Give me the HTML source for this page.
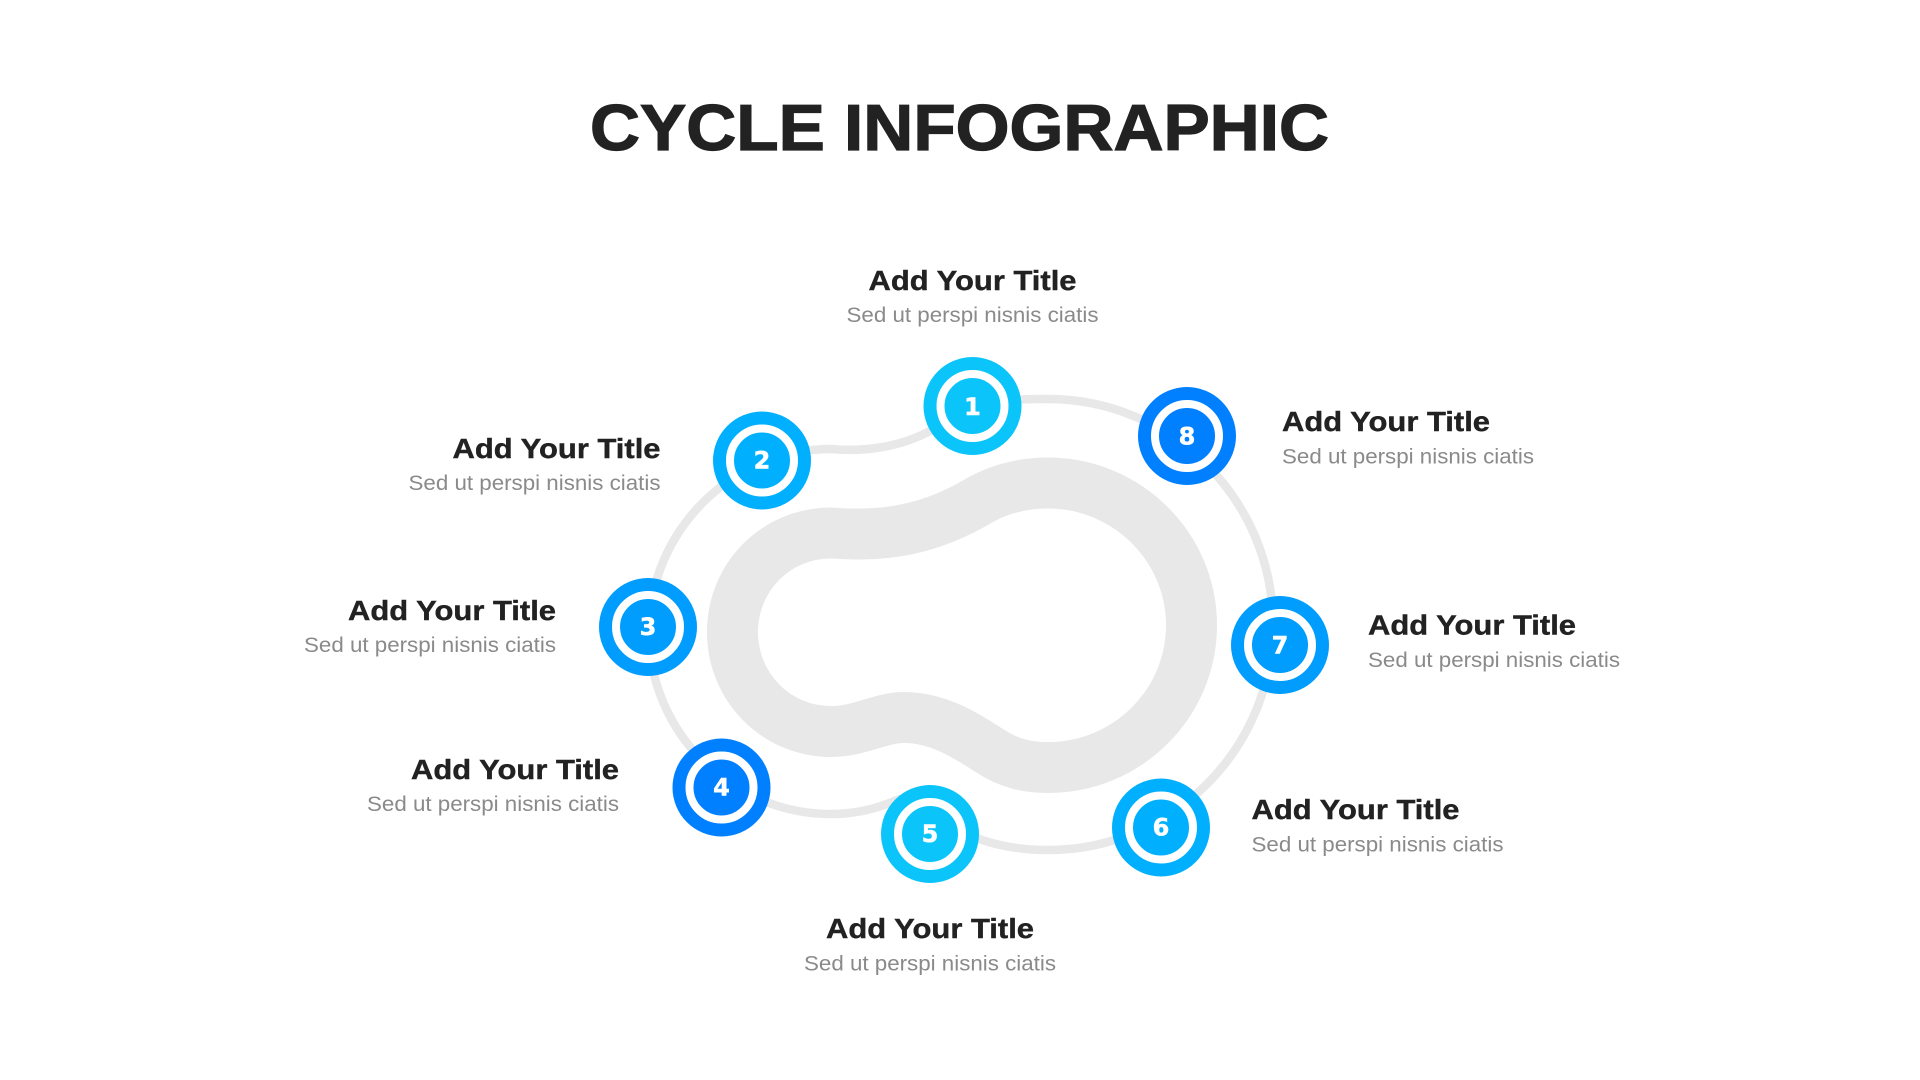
<!DOCTYPE html>
<html lang="en">
<head>
<meta charset="utf-8">
<title>Cycle Infographic</title>
<style>
html,body{margin:0;padding:0;background:#fff;width:1920px;height:1080px;overflow:hidden}
svg{display:block}
text{font-family:"Liberation Sans",sans-serif}
.h{font-size:65px;font-weight:700;fill:#222;stroke:#222;stroke-width:1.2px}
.t{font-size:28px;font-weight:700;fill:#222;stroke:#222;stroke-width:.4px}
.s{font-size:21px;fill:#8a8a8a}
.n{font-family:"DejaVu Sans",sans-serif;font-size:24px;font-weight:700;fill:#fff;text-anchor:middle;stroke:#fff;stroke-width:.5px}
</style>
</head>
<body>
<svg width="1920" height="1080" viewBox="0 0 1920 1080" xmlns="http://www.w3.org/2000/svg">
<rect width="1920" height="1080" fill="#fff"/>
<text class="h" x="590" y="150" textLength="739" lengthAdjust="spacingAndGlyphs">CYCLE INFOGRAPHIC</text>

<path d="M1048 399 C1172 399 1273 500 1273 625 C1273 749 1172 850 1048 850 C1020 850 1000 846 982 840 C960 832 950 804 915 799 C900 797 895 801 887 804 C868 811 850 814 831 814 C731 814 649 732 649 632 C649 532 731 449 831 449 C865 452 900 447 930 431 C945 422 955 411 972 406 C995 400 1020 399 1048 399 Z" fill="none" stroke="#e8e8e8" stroke-width="8.500"/>

<path d="M1048 483 C1127 483 1191.500 547 1191.500 625 C1191.500 704 1127 767.500 1048 767.500 C1028 767.500 1010 764 990 751 C970 738 940 717.500 904 717.500 C880 717.500 860 731.500 831 731.500 C776 731.500 732.500 687 732.500 632 C732.500 577 776 533 831 533 C885 537 930 530 980 500 C1000 489 1022 483 1048 483 Z" fill="none" stroke="#e8e8e8" stroke-width="51"/>

<circle cx="972.500" cy="406" r="49" fill="#0bc5fa"/><circle cx="972.500" cy="406" r="32" fill="none" stroke="#fff" stroke-width="8"/><text class="n" x="972.500" y="415">1</text>
<circle cx="762" cy="460.500" r="49" fill="#00b0ff"/><circle cx="762" cy="460.500" r="32" fill="none" stroke="#fff" stroke-width="8"/><text class="n" x="762" y="468.500">2</text>
<circle cx="648" cy="627" r="49" fill="#009dff"/><circle cx="648" cy="627" r="32" fill="none" stroke="#fff" stroke-width="8"/><text class="n" x="648" y="635">3</text>
<circle cx="721.500" cy="787.500" r="49" fill="#0080ff"/><circle cx="721.500" cy="787.500" r="32" fill="none" stroke="#fff" stroke-width="8"/><text class="n" x="721.500" y="795.500">4</text>
<circle cx="930" cy="834" r="49" fill="#0bc5fa"/><circle cx="930" cy="834" r="32" fill="none" stroke="#fff" stroke-width="8"/><text class="n" x="930" y="842">5</text>
<circle cx="1161" cy="827.500" r="49" fill="#00b0ff"/><circle cx="1161" cy="827.500" r="32" fill="none" stroke="#fff" stroke-width="8"/><text class="n" x="1161" y="835.500">6</text>
<circle cx="1280" cy="645" r="49" fill="#009dff"/><circle cx="1280" cy="645" r="32" fill="none" stroke="#fff" stroke-width="8"/><text class="n" x="1280" y="653.500">7</text>
<circle cx="1187" cy="436" r="49" fill="#0080ff"/><circle cx="1187" cy="436" r="32" fill="none" stroke="#fff" stroke-width="8"/><text class="n" x="1187" y="444.500">8</text>

<text class="t" x="972.500" y="290" text-anchor="middle" textLength="208" lengthAdjust="spacingAndGlyphs">Add Your Title</text>
<text class="s" x="972.500" y="322" text-anchor="middle" textLength="252" lengthAdjust="spacingAndGlyphs">Sed ut perspi nisnis ciatis</text>

<text class="t" x="660.500" y="458" text-anchor="end" textLength="208" lengthAdjust="spacingAndGlyphs">Add Your Title</text>
<text class="s" x="660.500" y="490" text-anchor="end" textLength="252" lengthAdjust="spacingAndGlyphs">Sed ut perspi nisnis ciatis</text>

<text class="t" x="556" y="620" text-anchor="end" textLength="208" lengthAdjust="spacingAndGlyphs">Add Your Title</text>
<text class="s" x="556" y="652" text-anchor="end" textLength="252" lengthAdjust="spacingAndGlyphs">Sed ut perspi nisnis ciatis</text>

<text class="t" x="619" y="779" text-anchor="end" textLength="208" lengthAdjust="spacingAndGlyphs">Add Your Title</text>
<text class="s" x="619" y="811" text-anchor="end" textLength="252" lengthAdjust="spacingAndGlyphs">Sed ut perspi nisnis ciatis</text>

<text class="t" x="930" y="938" text-anchor="middle" textLength="208" lengthAdjust="spacingAndGlyphs">Add Your Title</text>
<text class="s" x="930" y="970.500" text-anchor="middle" textLength="252" lengthAdjust="spacingAndGlyphs">Sed ut perspi nisnis ciatis</text>

<text class="t" x="1251.500" y="819" textLength="208" lengthAdjust="spacingAndGlyphs">Add Your Title</text>
<text class="s" x="1251.500" y="851.500" textLength="252" lengthAdjust="spacingAndGlyphs">Sed ut perspi nisnis ciatis</text>

<text class="t" x="1368" y="634.500" textLength="208" lengthAdjust="spacingAndGlyphs">Add Your Title</text>
<text class="s" x="1368" y="667" textLength="252" lengthAdjust="spacingAndGlyphs">Sed ut perspi nisnis ciatis</text>

<text class="t" x="1282" y="431" textLength="208" lengthAdjust="spacingAndGlyphs">Add Your Title</text>
<text class="s" x="1282" y="463.500" textLength="252" lengthAdjust="spacingAndGlyphs">Sed ut perspi nisnis ciatis</text>
</svg>
</body>
</html>
